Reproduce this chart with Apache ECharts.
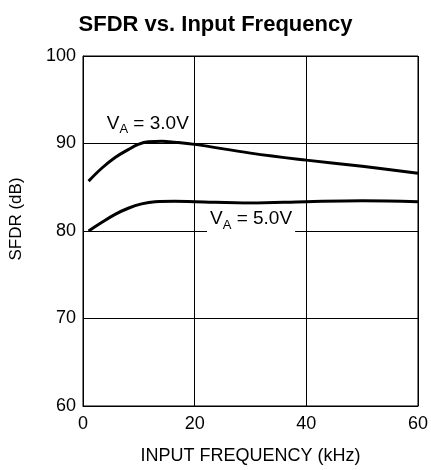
<!DOCTYPE html>
<html>
<head>
<meta charset="utf-8">
<title>SFDR vs. Input Frequency</title>
<script src="https://cdn.jsdelivr.net/npm/echarts@6/dist/echarts.min.js"></script>
<style>body{margin:0;background:#fff}#main{width:431px;height:470px}</style>
</head>
<body>
<div id="main"></div>
<script>
// input frequency (kHz)
var freq30 = [1, 3.4, 5.75, 8.1, 9.9, 11.7, 14.1, 16.4, 20, 30, 40, 50, 60];
var sfdr30 = [85.7, 87.2, 88.4, 89.3, 89.9, 90.2, 90.25, 90.15, 89.9, 88.9, 88.1, 87.4, 86.6];
var freq50 = [1, 3.4, 5.75, 8.1, 10.5, 12.9, 16.4, 20, 30, 40, 50, 60];
var sfdr50 = [80.0, 81.0, 81.9, 82.6, 83.1, 83.35, 83.4, 83.35, 83.2, 83.35, 83.45, 83.35];
var xTicks = [0, 20, 40, 60];
var yTicks = [60, 70, 80, 90, 100];

function pairs(xs, ys) {
    return xs.map(function (x, i) { return [x, ys[i]]; });
}

var font = '"Liberation Sans", Arial, sans-serif';
var labelRich = {
    v: { fontSize: 19, fontFamily: font, color: '#000' },
    s: { fontSize: 13, fontFamily: font, color: '#000', padding: [12, 0, 0, 0] }
};

var myChart = echarts.init(document.getElementById('main'));

var option = {
    animation: false,
    title: {
        text: 'SFDR vs. Input Frequency',
        left: 'center',
        top: 9,
        textStyle: { fontFamily: font, fontSize: 22, fontWeight: 'bold', color: '#000' }
    },
    grid: {
        left: 81, right: 13, top: 56, height: 350,
        show: true, borderColor: '#000', borderWidth: 1
    },
    xAxis: {
        type: 'value',
        min: xTicks[0], max: xTicks[xTicks.length - 1], interval: 20,
        name: 'INPUT FREQUENCY (kHz)',
        nameLocation: 'middle',
        nameGap: 41,
        nameTextStyle: { fontFamily: font, fontSize: 18, color: '#000' },
        axisLine: { lineStyle: { color: '#000', width: 1 } },
        axisTick: { show: false },
        axisLabel: { fontFamily: font, fontSize: 18, color: '#000', margin: 9 },
        splitLine: { show: true, lineStyle: { color: '#000', width: 1 } }
    },
    yAxis: {
        type: 'value',
        min: yTicks[0], max: yTicks[yTicks.length - 1], interval: 10,
        name: 'SFDR (dB)',
        nameLocation: 'middle',
        nameGap: 58,
        nameTextStyle: { fontFamily: font, fontSize: 17, color: '#000', padding: [0, 0, 0, 24] },
        axisLine: { show: true, lineStyle: { color: '#000', width: 1 } },
        axisTick: { show: false },
        axisLabel: { fontFamily: font, fontSize: 18, color: '#000', margin: 7 },
        splitLine: { show: true, lineStyle: { color: '#000', width: 1 } }
    },
    series: [
        {
            name: 'VA = 3.0V',
            type: 'line',
            smooth: 0.4,
            symbol: 'none',
            data: pairs(freq30, sfdr30),
            lineStyle: { color: '#000', width: 3 },
            markPoint: {
                symbol: 'circle', symbolSize: 0,
                label: {
                    show: true, position: 'inside',
                    formatter: '{v|V}{s|A}{v| = 3.0V}',
                    rich: labelRich
                },
                data: [{ coord: [11.6, 92.3] }]
            }
        },
        {
            name: 'VA = 5.0V',
            type: 'line',
            smooth: 0.4,
            symbol: 'none',
            data: pairs(freq50, sfdr50),
            lineStyle: { color: '#000', width: 3 },
            markPoint: {
                symbol: 'circle', symbolSize: 0,
                label: {
                    show: true, position: 'inside',
                    formatter: '{v|V}{s|A}{v| = 5.0V}',
                    rich: labelRich,
                    backgroundColor: '#fff',
                    padding: [2, 3, 3, 3]
                },
                data: [{ coord: [30.1, 81.3] }]
            }
        }
    ]
};

myChart.setOption(option);
</script>
</body>
</html>
